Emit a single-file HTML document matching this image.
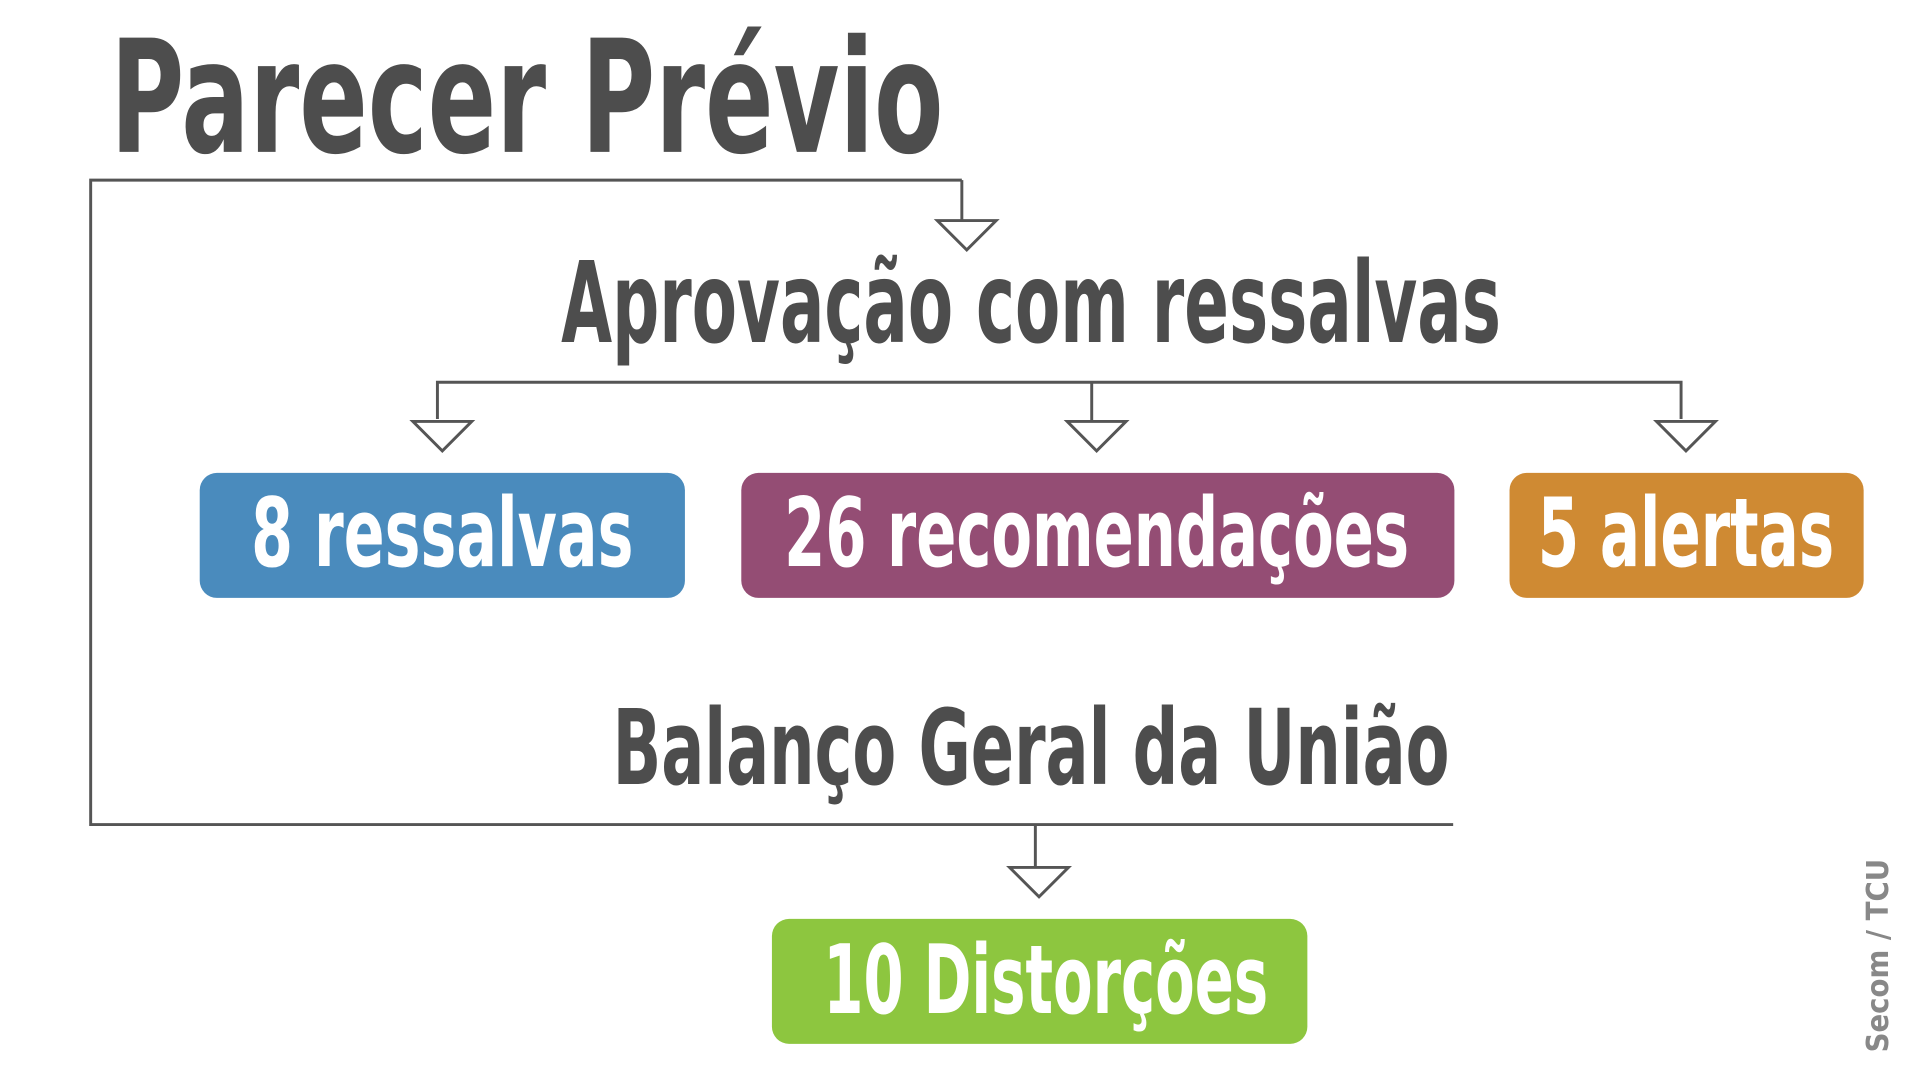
<!DOCTYPE html>
<html><head><meta charset="utf-8"><style>
html,body{margin:0;padding:0;background:#fff;width:1920px;height:1080px;overflow:hidden}
svg{display:block}
text{font-family:"Liberation Sans Narrow","DejaVu Sans Condensed","Liberation Sans",sans-serif;font-weight:bold}
</style></head><body>
<svg width="1920" height="1080" viewBox="0 0 1567 881.5" preserveAspectRatio="none" xmlns="http://www.w3.org/2000/svg">
<g stroke="#555" stroke-width="2.4" fill="none">
<polyline points="785,147 74,147 74,673 1186,673"/>
<line x1="785" y1="147" x2="785" y2="180"/>
<polygon points="765,180 813,180 789,204" fill="#fff"/>
<polyline points="357,342 357,312 1372,312 1372,342"/>
<line x1="891" y1="312" x2="891" y2="344"/>
<polygon points="337,344 385,344 361,368" fill="#fff"/>
<polygon points="871,344 919,344 895,368" fill="#fff"/>
<polygon points="1352,344 1400,344 1376,368" fill="#fff"/>
<line x1="845" y1="673" x2="845" y2="708"/>
<polygon points="824,708 872,708 848,732" fill="#fff"/>
</g>
<text x="90" y="124" font-size="128" fill="#4d4d4d" textLength="680" lengthAdjust="spacingAndGlyphs">Parecer Prévio</text>
<text x="458" y="279" font-size="92" fill="#4d4d4d" textLength="767" lengthAdjust="spacingAndGlyphs">Aprovação com ressalvas</text>
<rect x="163" y="386" width="396" height="102" rx="14" fill="#4a8bbd"/>
<rect x="605" y="386" width="582" height="102" rx="14" fill="#944d74"/>
<rect x="1232" y="386" width="289" height="102" rx="14" fill="#cf8a33"/>
<rect x="630" y="750" width="437" height="102" rx="14" fill="#8dc63f"/>
<text x="205" y="462" font-size="78" fill="#fff" textLength="312" lengthAdjust="spacingAndGlyphs">8 ressalvas</text>
<text x="640" y="462" font-size="78" fill="#fff" textLength="510" lengthAdjust="spacingAndGlyphs">26 recomendações</text>
<text x="1255" y="462" font-size="78" fill="#fff" textLength="242" lengthAdjust="spacingAndGlyphs">5 alertas</text>
<text x="500" y="640" font-size="85" fill="#4d4d4d" textLength="683" lengthAdjust="spacingAndGlyphs">Balanço Geral da União</text>
<text x="672" y="827" font-size="78" fill="#fff" textLength="363" lengthAdjust="spacingAndGlyphs">10 Distorções</text>
<text transform="translate(1541,859) rotate(-90)" font-size="25" fill="#888" style="font-family:'DejaVu Sans','Liberation Sans',sans-serif" textLength="158" lengthAdjust="spacingAndGlyphs">Secom / TCU</text>
</svg>
</body></html>
